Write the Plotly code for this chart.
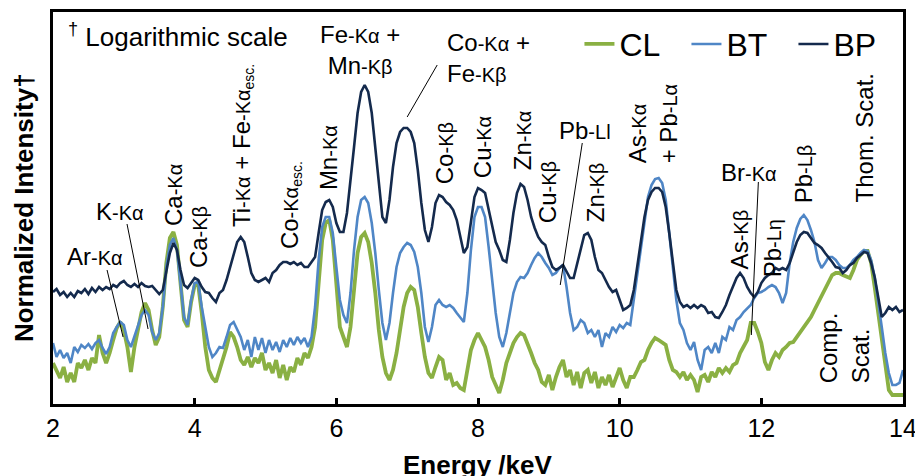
import numpy as np
import plotly.graph_objects as go

# Energy grid (keV), 0.05 keV steps from 2 to 14
energy = [round(2.0 + 0.05 * i, 2) for i in range(241)]

# Normalized intensity (log-scale, arbitrary units)
bp = [112,115,109,112,107,111,107,113,111,115,110,116,112,117,114,117,115,119,117,121,
      123,119,117,120,117,121,118,117,118,114,110,114,131,151,161,154,134,119,116,121,
      126,124,117,112,111,106,102,111,114,124,137,151,162,167,162,147,131,124,122,124,
      126,122,131,134,139,142,142,140,142,139,141,137,137,142,147,171,194,202,204,197,
      181,172,172,191,221,257,291,312,319,312,291,257,217,187,181,204,237,261,272,276,
      276,272,261,234,201,174,162,177,201,209,207,202,199,194,184,167,151,157,184,207,
      216,214,211,194,177,162,154,144,142,164,191,211,220,217,204,187,176,167,162,159,
      147,137,134,136,139,132,126,126,141,157,169,171,164,147,134,131,124,117,112,114,
      104,94,96,99,114,137,164,187,204,212,216,216,212,197,171,141,114,102,97,99,
      96,99,96,99,97,91,92,87,86,92,99,109,117,126,131,126,117,111,107,112,
      121,126,129,131,136,134,136,134,141,151,162,169,172,171,166,161,159,156,151,147,
      142,137,136,131,134,139,141,146,149,152,151,141,127,107,87,91,97,94,97,92,
      94]

bt = [61,47,54,46,51,41,57,52,59,56,60,55,61,64,56,50,57,71,77,82,
      79,64,57,67,79,89,94,89,72,64,71,97,137,159,166,154,121,87,79,104,
      121,122,97,77,57,47,51,57,56,67,79,82,74,67,54,64,47,67,54,66,
      51,64,54,62,52,64,57,66,59,67,61,66,57,67,97,144,177,187,187,171,
      137,104,89,81,111,154,187,204,207,201,181,151,114,81,64,81,111,137,151,157,
      161,159,152,137,111,77,62,77,99,104,99,97,99,96,91,87,82,111,154,187,
      197,197,187,157,124,91,67,57,71,91,111,122,127,126,131,139,146,151,147,141,
      136,129,131,136,139,117,91,74,77,84,81,71,74,67,74,57,71,67,77,72,
      79,76,81,79,104,131,157,184,207,219,225,226,221,204,171,137,104,81,74,61,
      54,62,44,34,54,57,51,61,51,67,64,77,74,84,87,92,96,99,106,111,
      112,114,117,119,117,111,101,111,141,162,176,185,189,184,174,162,144,136,141,147,
      147,144,139,136,136,139,144,147,151,154,153,144,127,104,77,51,31,19,19,21,
      34]

cl = [41,34,26,37,22,31,22,41,36,44,34,46,41,69,51,41,51,64,76,82,
      74,57,32,57,77,92,101,94,74,59,67,97,141,166,172,159,121,84,77,102,
      119,119,91,57,34,26,22,34,44,57,72,67,57,44,39,47,37,46,41,51,
      34,41,31,44,26,39,24,37,32,46,39,51,46,57,77,124,164,181,184,164,
      117,77,67,57,77,117,151,167,171,162,141,111,74,47,31,24,34,51,77,97,
      111,117,114,97,71,47,31,26,37,47,44,24,31,19,21,16,14,34,54,64,
      71,64,57,44,27,19,11,24,41,51,61,67,71,69,61,51,41,34,22,19,
      29,14,27,37,44,27,34,19,32,16,31,34,21,32,16,27,19,29,17,26,
      36,24,16,27,27,34,42,44,54,61,66,64,61,59,44,34,32,27,32,24,
      29,24,12,27,29,22,32,27,36,31,36,32,39,41,51,57,64,81,81,72,
      61,42,34,44,51,47,54,57,61,62,67,71,76,81,87,94,101,109,117,122,
      129,131,131,129,127,126,134,144,149,153,153,141,117,91,61,34,14,9,9,9,
      9]

series_names = ["CL", "BT", "BP"]
series_values = [cl, bt, bp]
series_colors = ["#8AB043", "#4F86C6", "#142A4D"]
series_widths = [3.8, 2.6, 2.6]

tick_vals = [2, 4, 6, 8, 10, 12, 14]
tick_text = ["2", "4", "6", "8", "10", "12", "14"]

FONT = "Liberation Sans, Arial, sans-serif"


def sm(t):
    return f"<span style='font-size:20px'>{t}</span>"


# Peak labels: (text, energy, intensity, angle, xanchor, align)
labels = [
    ("Ar" + sm("-Kα"), 2.593, 148, 0, "center", "center"),
    ("K" + sm("-Kα"), 2.946, 193, 0, "center", "center"),
    ("Ca" + sm("-Kα"), 3.695, 209, -90, "center", "center"),
    ("Ca" + sm("-Kβ"), 4.048, 167, -90, "center", "center"),
    ("Ti" + sm("-Kα") + " + Fe" + sm("-Kα<sub>esc.</sub>"), 4.669, 258, -90, "center", "center"),
    ("Co" + sm("-Kα<sub>esc.</sub>"), 5.347, 199, -90, "center", "center"),
    ("Mn" + sm("-Kα"), 5.884, 246, -90, "center", "center"),
    ("Fe" + sm("-Kα") + " +<br>Mn" + sm("-Kβ"), 6.336, 354, 0, "center", "center"),
    ("Co" + sm("-Kα") + " +<br>Fe" + sm("-Kβ"), 7.537, 346, 0, "left", "left"),
    ("Co" + sm("-Kβ"), 7.523, 251, -90, "center", "center"),
    ("Cu" + sm("-Kα"), 8.059, 257, -90, "center", "center"),
    ("Zn" + sm("-Kα"), 8.624, 264, -90, "center", "center"),
    ("Cu" + sm("-Kβ"), 8.977, 212, -90, "center", "center"),
    ("Pb" + sm("-Ll"), 9.514, 274, 0, "center", "center"),
    ("Zn" + sm("-Kβ"), 9.655, 212, -90, "center", "center"),
    ("As" + sm("-Kα") + "<br>+ Pb" + sm("-Lα"), 10.475, 280, -90, "center", "left"),
    ("Br" + sm("-Kα"), 11.83, 232, 0, "center", "center"),
    ("As" + sm("-Kβ"), 11.69, 165, -90, "center", "center"),
    ("Pb" + sm("-Lη"), 12.155, 156, -90, "center", "center"),
    ("Pb" + sm("-Lβ"), 12.593, 230, -90, "center", "center"),
    ("Thom. Scat.", 13.455, 266, -90, "center", "center"),
    ("Comp.<br>Scat.", 13.172, 56, -90, "center", "left"),
]

# Leader lines: (E0, I0, E1, I1)
leaders = [
    (2.763, 134, 2.989, 67),
    (3.045, 180, 3.342, 75),
    (7.424, 339, 7.0, 287),
    (9.472, 261, 9.161, 119),
    (11.958, 222, 11.859, 69),
]

fig = go.Figure()
for name, vals, col, w in zip(series_names, series_values, series_colors, series_widths):
    fig.add_trace(go.Scatter(x=energy, y=vals, mode="lines", name=name,
                             line=dict(color=col, width=w)))

annotations = []
for text, ex, iy, ang, xa, al in labels:
    annotations.append(dict(x=ex, y=iy, xref="x", yref="y", text=text, showarrow=False,
                            textangle=ang, xanchor=xa, yanchor="middle", align=al,
                            font=dict(family=FONT, size=24, color="black")))

annotations.append(dict(x=2.19, y=369, xref="x", yref="y", xanchor="left", yanchor="middle",
                        text="<sup>†</sup> Logarithmic scale", showarrow=False,
                        font=dict(family=FONT, size=26, color="black")))
annotations.append(dict(x=-0.034, y=0.5, xref="paper", yref="paper", textangle=-90,
                        text="<b>Normalized Intensity†</b>", showarrow=False,
                        xanchor="center", yanchor="middle",
                        font=dict(family=FONT, size=26, color="black")))
annotations.append(dict(x=0.5, y=-0.156, xref="paper", yref="paper",
                        text="<b>Energy /keV</b>", showarrow=False,
                        xanchor="center", yanchor="middle",
                        font=dict(family=FONT, size=26, color="black")))

shapes = [dict(type="line", xref="x", yref="y", x0=a, y0=b, x1=c, y1=d,
               line=dict(color="black", width=1)) for a, b, c, d in leaders]

fig.update_layout(
    width=915, height=476,
    margin=dict(l=53, r=12, t=12, b=72, autoexpand=False),
    paper_bgcolor="white", plot_bgcolor="white",
    font=dict(family=FONT, color="black"),
    showlegend=True,
    legend=dict(orientation="h", x=0.997, y=0.918, xanchor="right", yanchor="middle",
                font=dict(family=FONT, size=32, color="black"),
                entrywidth=62, entrywidthmode="pixels",
                bgcolor="rgba(0,0,0,0)", borderwidth=0),
    annotations=annotations,
    shapes=shapes,
)
fig.update_xaxes(range=[2, 14], tickvals=tick_vals, ticktext=tick_text,
                 ticks="inside", ticklen=6, tickwidth=2.5, tickcolor="black",
                 showline=True, linecolor="black", linewidth=2.5, mirror=True,
                 showgrid=False, zeroline=False, ticklabelstandoff=0,
                 ticklabeloverflow="allow",
                 tickfont=dict(family=FONT, size=25, color="black"))
fig.update_yaxes(range=[0, 392], showticklabels=False, ticks="",
                 showline=True, linecolor="black", linewidth=2.5, mirror=True,
                 showgrid=False, zeroline=False)

fig.write_html("out.html")
